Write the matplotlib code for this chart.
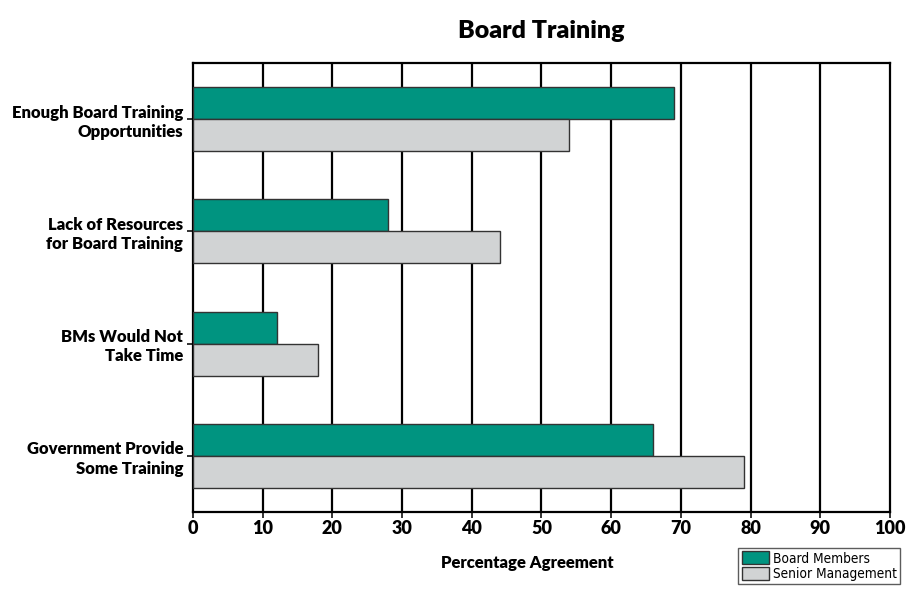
import matplotlib
matplotlib.use("Agg")
import matplotlib.pyplot as plt
import numpy as np
from matplotlib.patches import Patch
from matplotlib import font_manager

categories = [
    "Enough Board Training\nOpportunities",
    "Lack of Resources\nfor Board Training",
    "BMs Would Not\nTake Time",
    "Government Provide\nSome Training",
]
board_members = [69, 28, 12, 66]
senior_management = [54, 44, 18, 79]
x_ticks = [0, 10, 20, 30, 40, 50, 60, 70, 80, 90, 100]

TEAL = "#009480"
GREY = "#d1d3d4"
EDGE = "#333333"

plt.rcParams["font.family"] = ["Lato", "DejaVu Sans"]

fig = plt.figure(figsize=(9.09, 5.91), dpi=100)
ax = fig.add_axes([0.2123, 0.1337, 0.979 - 0.2123, 0.8934 - 0.1337])

y = np.arange(len(categories))
h = 0.286
ax.barh(y - h / 2, board_members, height=h, color=TEAL, edgecolor=EDGE,
        linewidth=1.0, zorder=3)
ax.barh(y + h / 2, senior_management, height=h, color=GREY, edgecolor=EDGE,
        linewidth=1.0, zorder=3)

ax.set_xlim(0, 100)
ax.set_ylim(3.5, -0.5)
ax.set_xticks(x_ticks)
ax.set_xticklabels([str(v) for v in x_ticks], fontsize=13, fontweight="heavy")
ax.set_yticks(y)
ax.set_yticklabels(categories, fontsize=12, fontweight="heavy", linespacing=1.25)

for v in x_ticks[1:-1]:
    ax.axvline(v, color="black", linewidth=1.6, zorder=1)

for s in ax.spines.values():
    s.set_linewidth(1.6)
    s.set_color("black")
ax.tick_params(axis="both", direction="out", length=4, width=1.4, color="#333333")
ax.tick_params(axis="x", pad=2)
ax.tick_params(axis="y", pad=3)

fig.text(0.595, 0.948, "Board Training", ha="center", va="center",
         fontsize=18, fontweight="heavy")
fig.text(0.58, 0.047, "Percentage Agreement", ha="center", va="center",
         fontsize=12, fontweight="heavy")

legend_font = font_manager.FontProperties(family=["DejaVu Sans"], stretch="condensed", size=9.8)
handles = [Patch(facecolor=TEAL, edgecolor=EDGE, label="Board Members"),
           Patch(facecolor=GREY, edgecolor=EDGE, label="Senior Management")]
leg = fig.legend(handles=handles, loc="upper left",
                 bbox_to_anchor=(0.812, 0.0728), bbox_transform=fig.transFigure,
                 frameon=True, fancybox=False, borderpad=0.25,
                 handlelength=2.0, handleheight=1.1, handletextpad=0.3,
                 labelspacing=0.1, borderaxespad=0, prop=legend_font)
leg.get_frame().set_edgecolor("#333333")
leg.get_frame().set_linewidth(1.0)

fig.savefig("out.png", dpi=100)
